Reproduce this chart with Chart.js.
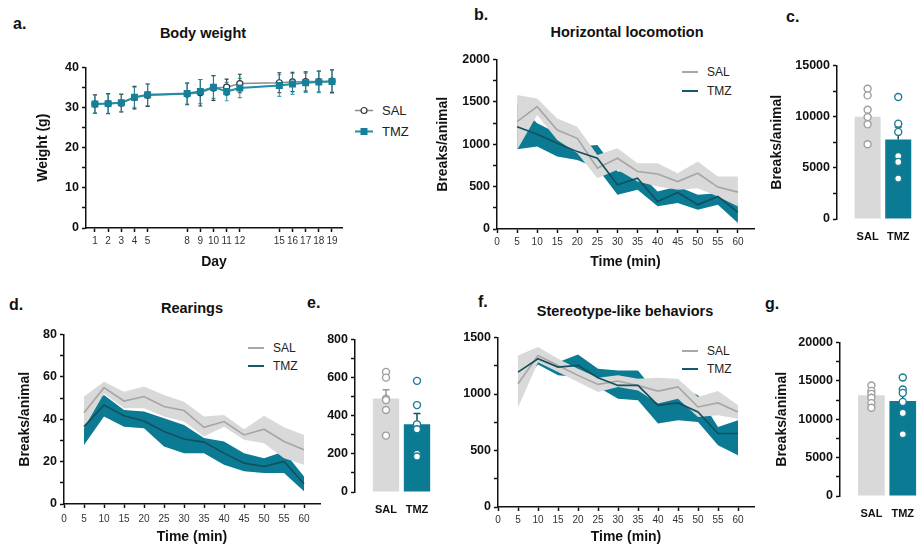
<!DOCTYPE html>
<html>
<head>
<meta charset="utf-8">
<script src="https://cdn.jsdelivr.net/npm/chart.js@4.4.1/dist/chart.umd.min.js"></script>
<style>
  body { margin: 0; width: 919px; height: 552px; background: #fff; position: relative; overflow: hidden;
         font-family: 'Liberation Sans', Arial, Helvetica, sans-serif; color: #111; }
  .letter { position: absolute; font-weight: bold; font-size: 16px; transform: translateY(-50%); }
  .title { position: absolute; font-weight: bold; font-size: 14.5px; transform: translate(-50%, -50%); white-space: nowrap; }
  .leg { position: absolute; display: flex; align-items: center; font-size: 12px; color: #222; transform: translateY(-50%); }
  .leg i { display: inline-block; width: 16px; height: 2.5px; margin-right: 9px; }
  .leg svg { margin-right: 9px; }
  canvas { position: absolute; }
</style>
</head>
<body>

<div class="letter" style="left:13px;top:24px">a.</div>
<div class="title" style="left:203px;top:33px">Body weight</div>
<div class="letter" style="left:474px;top:15px">b.</div>
<div class="title" style="left:627px;top:32px">Horizontal locomotion</div>
<div class="letter" style="left:786px;top:17px">c.</div>
<div class="letter" style="left:9px;top:305px">d.</div>
<div class="title" style="left:192px;top:308px">Rearings</div>
<div class="letter" style="left:307px;top:303px">e.</div>
<div class="letter" style="left:478px;top:302px">f.</div>
<div class="title" style="left:625px;top:311px">Stereotype-like behaviors</div>
<div class="letter" style="left:765px;top:304px">g.</div>

<div class="leg" style="left:355px;top:110px;font-size:13px">
  <svg width="18" height="10"><line x1="0" y1="5" x2="18" y2="5" stroke="#8c8c8c" stroke-width="1.5"/><circle cx="9" cy="5" r="3" fill="#fff" stroke="#333" stroke-width="1.2"/></svg>SAL</div>
<div class="leg" style="left:355px;top:131px;font-size:13px">
  <svg width="18" height="10"><line x1="0" y1="5" x2="18" y2="5" stroke="#1f8ea6" stroke-width="2"/><rect x="5.5" y="1.5" width="7" height="7" fill="#16809a"/></svg>TMZ</div>

<div class="leg" style="left:682px;top:72px"><i style="background:#a8a8a8"></i>SAL</div>
<div class="leg" style="left:682px;top:91px"><i style="background:#155a6b"></i>TMZ</div>
<div class="leg" style="left:248px;top:348px"><i style="background:#a8a8a8"></i>SAL</div>
<div class="leg" style="left:248px;top:366px"><i style="background:#155a6b"></i>TMZ</div>
<div class="leg" style="left:682px;top:351px"><i style="background:#a8a8a8"></i>SAL</div>
<div class="leg" style="left:682px;top:369px"><i style="background:#155a6b"></i>TMZ</div>

<script>
// ---- data ----
const days = [1, 2, 3, 4, 5, 8, 9, 10, 11, 12, 15, 16, 17, 18, 19];
const weightSal = [30.9, 31.0, 31.1, 32.5, 33.1, 33.4, 33.7, 34.9, 35.1, 36.0, 36.2, 36.4, 36.5, 36.5, 36.6];
const weightTmz = [30.9, 31.0, 31.2, 32.6, 33.2, 33.5, 34.0, 35.1, 34.0, 34.9, 35.5, 35.9, 36.2, 36.4, 36.5];
const weightSalSem = [2.3, 2.5, 2.2, 2.8, 2.8, 2.7, 3.3, 3.1, 2.0, 2.3, 2.5, 2.4, 2.4, 2.6, 2.8];
const weightTmzSem = [2.2, 2.4, 2.2, 2.5, 2.7, 2.6, 3.0, 2.8, 2.3, 2.4, 2.7, 2.6, 2.4, 2.7, 2.9];

const minutes = [5, 10, 15, 20, 25, 30, 35, 40, 45, 50, 55, 60];
const timeTicks = [0, 5, 10, 15, 20, 25, 30, 35, 40, 45, 50, 55, 60];

const locoSal   = [1266, 1443, 1168, 1070, 717, 835, 678, 650, 560, 658, 494, 435];
const locoSalHi = [1580, 1540, 1305, 1207, 874, 952, 776, 776, 658, 795, 620, 620];
const locoSalLo = [933, 1345, 1050, 894, 600, 698, 560, 502, 462, 482, 384, 266];
const locoTmz   = [1207, 1117, 1011, 913, 835, 521, 600, 325, 431, 286, 384, 196];
const locoTmzHi = [1474, 1247, 1129, 972, 992, 678, 678, 443, 502, 404, 423, 306];
const locoTmzLo = [940, 972, 855, 815, 717, 404, 462, 267, 306, 227, 286, 71];

const rearSal   = [43.1, 54.9, 48.6, 50.7, 46.0, 44.1, 36.2, 38.9, 32.6, 35.3, 29.5, 25.6];
const rearSalHi = [50.7, 57.7, 53.0, 55.4, 51.5, 48.3, 41.3, 42.0, 35.3, 41.6, 36.2, 32.6];
const rearSalLo = [35.8, 52.2, 45.2, 45.2, 41.3, 38.9, 31.8, 36.5, 30.3, 28.7, 21.6, 18.5];
const rearTmz   = [36.5, 46.7, 41.6, 39.2, 34.2, 30.7, 29.2, 24.0, 19.3, 17.7, 20.1, 9.6];
const rearTmzHi = [45.1, 51.5, 44.4, 43.6, 40.5, 37.3, 31.1, 29.5, 24.0, 21.6, 24.8, 13.0];
const rearTmzLo = [27.9, 41.3, 36.5, 35.8, 27.1, 24.0, 24.0, 18.5, 15.4, 14.6, 14.6, 6.0];

const stereoSal   = [1091, 1341, 1253, 1165, 1085, 1115, 1076, 1026, 1062, 885, 921, 841];
const stereoSalHi = [1341, 1415, 1312, 1224, 1144, 1165, 1135, 1144, 1135, 973, 1026, 900];
const stereoSalLo = [880, 1282, 1194, 1106, 1018, 1062, 1032, 915, 959, 797, 812, 782];
const stereoTmz   = [1194, 1312, 1238, 1253, 1144, 1076, 1076, 900, 921, 841, 650, 650];
const stereoTmzHi = [1326, 1341, 1282, 1350, 1224, 1209, 1209, 988, 1062, 988, 709, 768];
const stereoTmzLo = [1062, 1262, 1165, 1150, 1062, 959, 944, 738, 768, 753, 547, 459];

const groups = ['SAL', 'TMZ'];
const totLocoMean = [10000, 7760];
const totLocoSem = [780, 1230];
const totLocoSal = [12730, 12080, 10680, 9970, 9250, 7300];
const totLocoTmz = [11920, 9320, 8510, 6140, 5580, 3960];

const totRearMean = [490, 355];
const totRearSem = [47, 57];
const totRearSal = [630, 600, 489, 482, 430, 296];
const totRearTmz = [583, 456, 355, 329, 200, 186];

const totStereoMean = [13130, 12390];
const totStereoSem = [650, 960];
const totStereoSal = [14400, 13700, 13300, 12800, 12100, 11500];
const totStereoTmz = [15430, 13870, 13430, 12260, 10830, 8040];

// ---- styling ----
const TEAL = '#0b7a93';
const TEAL_DARK = '#134f5d';
const GREY_BAND = '#d9d9d9';
const GREY_LINE = '#a6a6a6';

Chart.defaults.font.family = "'Liberation Sans', Arial, Helvetica, sans-serif";
Chart.defaults.color = '#111';
Chart.defaults.animation = false;
Chart.defaults.plugins.legend.display = false;
Chart.defaults.plugins.tooltip.enabled = false;

function place(area, yw, xh, pt, pr) {
    const c = document.createElement('canvas');
    const w = area.r - area.l + yw + pr;
    const h = area.b - area.t + pt + xh;
    c.width = w;
    c.height = h;
    c.style.left = (area.l - yw) + 'px';
    c.style.top = (area.t - pt) + 'px';
    c.style.width = w + 'px';
    c.style.height = h + 'px';
    document.body.appendChild(c);
    return c;
}

function pts(xs, ys) {
    return xs.map((x, i) => ({ x: x, y: ys[i] }));
}

function yScale(max, step, every, yw, title) {
    const vals = [];
    for (let v = 0; v <= max + 1e-9; v += step) vals.push(v);
    return {
        type: 'linear', min: 0, max: max,
        afterBuildTicks: s => { s.ticks = vals.map(v => ({ value: v })); },
        afterFit: s => { s.width = yw; },
        ticks: {
            autoSkip: false,
            callback: v => (Math.abs(v % every) < 1e-9 ? String(v) : ''),
            font: { size: 12.5, weight: 'bold' }, color: '#111', padding: 3
        },
        grid: { drawOnChartArea: false, tickLength: 4, tickColor: '#111', tickWidth: 1.5 },
        border: { color: '#111', width: 1.5 },
        title: { display: !!title, text: title || '', font: { size: 14, weight: 'bold' }, padding: 0, color: '#111' }
    };
}

function xScale(min, max, ticks, xh, pad, title) {
    return {
        type: 'linear', min: min, max: max,
        afterBuildTicks: s => { s.ticks = ticks.map(v => ({ value: v })); },
        afterFit: s => { s.height = xh; },
        ticks: { autoSkip: false, maxRotation: 0, font: { size: 10 }, color: '#333', padding: pad },
        grid: { drawOnChartArea: false, tickLength: 4, tickColor: '#111', tickWidth: 1.5 },
        border: { color: '#111', width: 1.5 },
        title: { display: true, text: title, font: { size: 14, weight: 'bold' }, padding: 0, color: '#111' }
    };
}

// error bars: 'both' for the weight curve, 'up' for the bar graphs
function drawErr(chart, i) {
    const ds = chart.data.datasets[i];
    if (!ds.errors) return;
    const meta = chart.getDatasetMeta(i);
    const y = chart.scales.y;
    const ctx = chart.ctx;
    ctx.save();
    meta.data.forEach((el, j) => {
        const v = ds.data[j].y, e = ds.errors[j];
        const col = Array.isArray(ds.errColor) ? ds.errColor[j] : ds.errColor;
        const top = y.getPixelForValue(v + e);
        const bot = ds.errMode === 'up' ? y.getPixelForValue(v) : y.getPixelForValue(v - e);
        ctx.strokeStyle = col;
        ctx.lineWidth = ds.errWidth || 1.5;
        ctx.beginPath();
        ctx.moveTo(el.x, top); ctx.lineTo(el.x, bot);
        ctx.moveTo(el.x - ds.capW, top); ctx.lineTo(el.x + ds.capW, top);
        if (ds.errMode !== 'up') { ctx.moveTo(el.x - ds.capW, bot); ctx.lineTo(el.x + ds.capW, bot); }
        ctx.stroke();
    });
    ctx.restore();
}

const errorBars = {
    id: 'errorBars',
    beforeDatasetsDraw(chart) {
        // draw the back series first so the front one's bars sit on top
        for (let i = chart.data.datasets.length - 1; i >= 0; i--) {
            if (chart.data.datasets[i].errMode === 'both') drawErr(chart, i);
        }
    },
    afterDatasetDraw(chart, args) {
        if (chart.data.datasets[args.index].errMode === 'up') drawErr(chart, args.index);
    }
};

const baseOpts = { responsive: false, devicePixelRatio: 1, maintainAspectRatio: false };

// ---- a. body weight ----
(function () {
    const cv = place({ l: 86, t: 67, r: 342, b: 228 }, 51, 43, 10, 6);
    new Chart(cv, {
        type: 'line',
        data: {
            datasets: [
                {
                    label: 'TMZ', data: pts(days, weightTmz), borderColor: '#1f8ea6', borderWidth: 2,
                    pointStyle: 'rect', pointRadius: 3.5, pointBackgroundColor: '#16809a', pointBorderColor: '#16809a',
                    errors: weightTmzSem, errMode: 'both', errColor: 'rgba(31,142,166,0.85)', errWidth: 1.1, capW: 2, tension: 0
                },
                {
                    label: 'SAL', data: pts(days, weightSal), borderColor: '#8c8c8c', borderWidth: 1.5,
                    pointStyle: 'circle', pointRadius: 3, pointBackgroundColor: '#fff', pointBorderColor: '#333', pointBorderWidth: 1.2,
                    errors: weightSalSem, errMode: 'both', errColor: '#3a3a3a', errWidth: 1.1, capW: 2, tension: 0
                }
            ]
        },
        options: Object.assign({}, baseOpts, {
            layout: { padding: { top: 10, right: 6 } },
            scales: {
                x: xScale(0.32, 19.76, days, 43, 3, 'Day'),
                y: yScale(40, 5, 10, 51, 'Weight (g)')
            }
        }),
        plugins: [errorBars]
    });
})();

// ---- b. d. f. time courses ----
function timeCourse(area, yw, xh, pad, sal, salHi, salLo, tmz, tmzHi, tmzLo, ymax, ystep, every, ytitle) {
    const cv = place(area, yw, xh, 10, 4);
    const none = 'rgba(0,0,0,0)';
    new Chart(cv, {
        type: 'line',
        data: {
            datasets: [
                { label: 'TMZ', data: pts(minutes, tmz), borderColor: TEAL_DARK, borderWidth: 1.6, pointRadius: 0, fill: false, order: 0 },
                { label: 'SAL', data: pts(minutes, sal), borderColor: GREY_LINE, borderWidth: 1.6, pointRadius: 0, fill: false, order: 1 },
                { data: pts(minutes, salHi), borderColor: none, borderWidth: 0, pointRadius: 0, backgroundColor: GREY_BAND, fill: '+1', order: 2 },
                { data: pts(minutes, salLo), borderColor: none, borderWidth: 0, pointRadius: 0, fill: false, order: 2 },
                { data: pts(minutes, tmzHi), borderColor: none, borderWidth: 0, pointRadius: 0, backgroundColor: TEAL, fill: '+1', order: 3 },
                { data: pts(minutes, tmzLo), borderColor: none, borderWidth: 0, pointRadius: 0, fill: false, order: 3 }
            ]
        },
        options: Object.assign({}, baseOpts, {
            layout: { padding: { top: 10, right: 4 } },
            scales: {
                x: xScale(0, 64, timeTicks, xh, pad, 'Time (min)'),
                y: yScale(ymax, ystep, every, yw, ytitle)
            }
        })
    });
}

timeCourse({ l: 497, t: 59, r: 754, b: 229 }, 62, 42, 3, locoSal, locoSalHi, locoSalLo, locoTmz, locoTmzHi, locoTmzLo, 2000, 250, 500, 'Breaks/animal');
timeCourse({ l: 64, t: 334, r: 320, b: 504 }, 47, 42, 5, rearSal, rearSalHi, rearSalLo, rearTmz, rearTmzHi, rearTmzLo, 80, 10, 20, 'Breaks/animal');
timeCourse({ l: 498, t: 337, r: 754, b: 507 }, 40, 39, 3, stereoSal, stereoSalHi, stereoSalLo, stereoTmz, stereoTmzHi, stereoTmzLo, 1500, 250, 500, '');

// ---- c. e. g. totals ----
function totals(area, yw, means, sems, dotsSal, dotsTmz, ymax, ystep, every, ytitle) {
    const cv = place(area, yw, 30, 10, 0);
    const dot = { type: 'scatter', pointRadius: 3.5, pointBorderWidth: 1.4, pointBackgroundColor: '#fff', order: 0 };
    new Chart(cv, {
        type: 'bar',
        data: {
            datasets: [
                Object.assign({}, dot, { data: dotsSal.map(v => ({ x: 1, y: v })), pointBorderColor: '#9e9e9e' }),
                Object.assign({}, dot, { data: dotsTmz.map(v => ({ x: 2, y: v })), pointBorderColor: '#1c7d94' }),
                {
                    type: 'bar', data: means.map((v, i) => ({ x: i + 1, y: v })),
                    backgroundColor: [GREY_BAND, TEAL], barPercentage: 0.85, categoryPercentage: 1,
                    errors: sems, errMode: 'up', errColor: ['#9a9a9a', TEAL_DARK], capW: 3.5, order: 1
                }
            ]
        },
        options: Object.assign({}, baseOpts, {
            layout: { padding: { top: 10 } },
            scales: {
                x: {
                    type: 'linear', min: 0, max: 2.6, offset: false,
                    afterBuildTicks: s => { s.ticks = [{ value: 1 }, { value: 2 }]; },
                    afterFit: s => { s.height = 30; },
                    ticks: { autoSkip: false, maxRotation: 0, callback: v => groups[v - 1], font: { size: 11, weight: 'bold' }, color: '#111', padding: 11 },
                    grid: { display: false, drawTicks: false },
                    border: { display: false }
                },
                y: yScale(ymax, ystep, every, yw, ytitle)
            }
        }),
        plugins: [errorBars]
    });
}

totals({ l: 837, t: 65, r: 922, b: 219 }, 68, totLocoMean, totLocoSem, totLocoSal, totLocoTmz, 15000, 2500, 5000, 'Breaks/animal');
totals({ l: 355, t: 339, r: 441, b: 492 }, 40, totRearMean, totRearSem, totRearSal, totRearTmz, 800, 100, 200, '');
totals({ l: 840, t: 342, r: 927, b: 496 }, 66, totStereoMean, totStereoSem, totStereoSal, totStereoTmz, 20000, 2500, 5000, 'Breaks/animal');
</script>
</body>
</html>
